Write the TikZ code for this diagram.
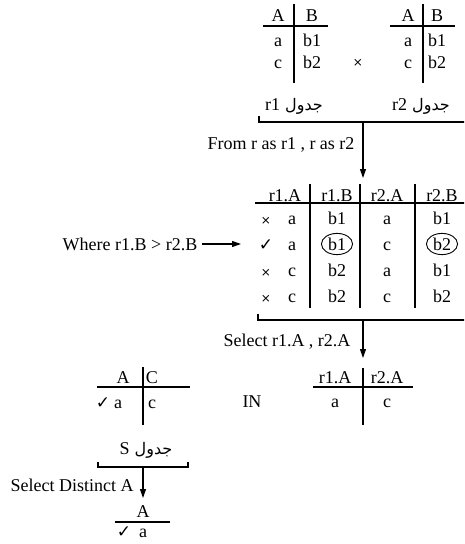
\documentclass[tikz,border=0pt]{standalone}
\usepackage{fontspec}
\setmainfont{Liberation Serif}
\newfontfamily\arabicfont[Script=Arabic]{DejaVu Sans}
\newfontfamily\symfont{DejaVu Sans}
\TeXXeTstate=1
\usetikzlibrary{arrows.meta, shapes.geometric}

\newcommand{\jadwal}[1]{{\arabicfont\fontsize{16}{18}\selectfont\beginR جدول \beginL{\rmfamily\fontsize{18}{21}\selectfont #1}\endL\endR}}
\newcommand{\nope}{{\symfont\fontsize{12}{12}\selectfont ×}}
\newcommand{\yes}{{\symfont\fontsize{17}{17}\selectfont ✓}}

\begin{document}
\begin{tikzpicture}[x=1pt, y=-1pt, font=\fontsize{18}{21}\selectfont,
    cell/.style={inner sep=0pt, text height=12pt, text depth=0pt},
    ring/.style={draw, ellipse, inner xsep=2pt, inner ysep=1.5pt, line width=0.9pt},
    rule/.style={line width=1.5pt},
    brace/.style={line width=1.2pt},
    flow/.style={line width=1.1pt, -{Triangle[length=9pt, width=6pt]}}]
    \useasboundingbox (0,0) rectangle (464,544);
    \clip (0,0) rectangle (464,544);

    % Table r1
    \node[cell] (rAh) at (278,15) {A};
    \node[cell] (rBh) at (312,15) {B};
    \node[cell] (rA1) at (278,40) {a};
    \node[cell] (rB1) at (312,40) {b1};
    \node[cell] (rA2) at (278,62) {c};
    \node[cell] (rB2) at (312,62) {b2};
    \draw[rule] (263,26) -- (328,26); % header line
    \draw[rule] (294,4) -- (294,83); % column line
    \node[cell] (rname) at (294,104) {\jadwal{r1}};

    % Product sign
    \node[cell] (times) at (358,60) {\nope};

    % Table r2
    \node[cell] (sAh) at (408,15) {A};
    \node[cell] (sBh) at (437,15) {B};
    \node[cell] (sA1) at (408,40) {a};
    \node[cell] (sB1) at (437,40) {b1};
    \node[cell] (sA2) at (408,62) {c};
    \node[cell] (sB2) at (437,62) {b2};
    \draw[rule] (390,26) -- (455,26); % header line
    \draw[rule] (423,4) -- (423,83); % column line
    \node[cell] (sname) at (421,104) {\jadwal{r2}};

    % From step
    \draw[brace] (259,116) -- (259,122) -- (470,122); % bracket
    \coordinate (fromtop) at (363,122);
    \coordinate (frombot) at (363,178);
    \draw[flow] (fromtop) -- (frombot);
    \node[cell] (from) at (281,143) {From r as r1 , r as r2};

    % Product table
    \node[cell] (pAh) at (285,195) {r1.A};
    \node[cell] (pBh) at (337,195) {r1.B};
    \node[cell] (qAh) at (387,195) {r2.A};
    \node[cell] (qBh) at (442,195) {r2.B};
    \draw[rule] (255,203) -- (470,203); % header line
    \draw[rule] (310,184) -- (310,308);
    \draw[rule] (360,184) -- (360,308);
    \draw[rule] (415,184) -- (415,308);

    \node[cell] (mk1) at (266,218) {\nope};
    \node[cell] (pA1) at (292,218) {a};
    \node[cell] (pB1) at (337,218) {b1};
    \node[cell] (qA1) at (387,218) {a};
    \node[cell] (qB1) at (442,218) {b1};

    \node[cell] (mk2) at (266,244) {\yes};
    \node[cell] (pA2) at (292,244) {a};
    \node[cell, ring] (pB2) at (337,244) {b1}; % kept
    \node[cell] (qA2) at (387,244) {c};
    \node[cell, ring] (qB2) at (442,244) {b2}; % kept

    \node[cell] (mk3) at (266,270) {\nope};
    \node[cell] (pA3) at (292,270) {c};
    \node[cell] (pB3) at (337,270) {b2};
    \node[cell] (qA3) at (387,270) {a};
    \node[cell] (qB3) at (442,270) {b1};

    \node[cell] (mk4) at (266,296) {\nope};
    \node[cell] (pA4) at (292,296) {c};
    \node[cell] (pB4) at (337,296) {b2};
    \node[cell] (qA4) at (387,296) {c};
    \node[cell] (qB4) at (442,296) {b2};

    % Where step
    \node[cell] (where) at (130,244) {Where r1.B > r2.B};
    \coordinate (row2) at (241,244);
    \draw[flow, shorten <=4pt] (where) -- (row2);

    % Select step
    \draw[brace] (258,314) -- (258,320) -- (470,320); % bracket
    \coordinate (seltop) at (363,320);
    \coordinate (selbot) at (363,358);
    \draw[flow] (seltop) -- (selbot);
    \node[cell] (select) at (287,340) {Select r1.A , r2.A};

    % Result table
    \node[cell] (tAh) at (335,377) {r1.A};
    \node[cell] (tBh) at (387,377) {r2.A};
    \node[cell] (tA1) at (335,401) {a};
    \node[cell] (tB1) at (387,401) {c};
    \draw[rule] (313,387) -- (413,387); % header line
    \draw[rule] (363,368) -- (363,425); % column line

    \node[cell] (in) at (252,401) {IN};

    % Table S
    \node[cell] (uAh) at (123,377) {A};
    \node[cell] (uCh) at (152,377) {C};
    \node[cell] (umk) at (103,402) {\yes};
    \node[cell] (uA1) at (118,402) {a};
    \node[cell] (uC1) at (152,402) {c};
    \draw[rule] (97,387) -- (190,387); % header line
    \draw[rule] (143,367) -- (143,425); % column line
    \node[cell] (uname) at (146,448) {\jadwal{S}};

    % Distinct step
    \draw[brace] (98,462) -- (98,467) -- (188,467) -- (188,462); % bracket
    \coordinate (distop) at (143,467);
    \coordinate (disbot) at (143,498);
    \draw[flow] (distop) -- (disbot);
    \node[cell] (distinct) at (72,485) {Select Distinct A};

    % Final table
    \node[cell] (vAh) at (143,511) {A};
    \draw[rule] (115,522) -- (170,522); % header line
    \node[cell] (vmk) at (124,531) {\yes};
    \node[cell] (vA1) at (143,531) {a};
\end{tikzpicture}
\end{document}
